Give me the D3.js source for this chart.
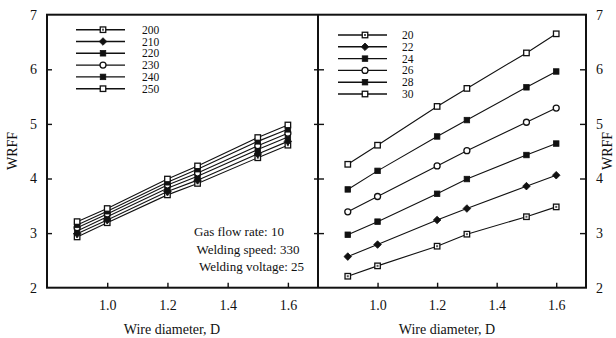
<!DOCTYPE html>
<html>
<head>
<meta charset="utf-8">
<script src="https://cdn.jsdelivr.net/npm/d3@7"></script>
<style>
  html, body { margin: 0; padding: 0; background: #fff; }
  svg { display: block; }
  text { font-family: "Liberation Serif", "DejaVu Serif", serif; fill: #111; }
</style>
</head>
<body>
<svg id="chart" width="616" height="338"></svg>
<script>
// Wire diameter values shared by both panels
const diameters = [0.9, 1.0, 1.2, 1.3, 1.5, 1.6];
const xTicks = [1.0, 1.2, 1.4, 1.6];
const yTicks = [2, 3, 4, 5, 6, 7];

// Left panel: welding current series
const currentLabels = ["200", "210", "220", "230", "240", "250"];
const current200 = [2.93, 3.19, 3.70, 3.91, 4.38, 4.61];
const current210 = [2.99, 3.24, 3.76, 3.97, 4.45, 4.68];
const current220 = [3.04, 3.30, 3.82, 4.04, 4.53, 4.76];
const current230 = [3.10, 3.35, 3.88, 4.10, 4.60, 4.83];
const current240 = [3.15, 3.40, 3.93, 4.17, 4.68, 4.90];
const current250 = [3.21, 3.45, 3.99, 4.23, 4.75, 4.98];

// Right panel: welding voltage series
const voltageLabels = ["20", "22", "24", "26", "28", "30"];
const voltage20 = [2.21, 2.40, 2.76, 2.98, 3.30, 3.48];
const voltage22 = [2.57, 2.79, 3.24, 3.45, 3.86, 4.06];
const voltage24 = [2.97, 3.21, 3.72, 3.99, 4.43, 4.64];
const voltage26 = [3.39, 3.67, 4.23, 4.51, 5.03, 5.29];
const voltage28 = [3.80, 4.14, 4.77, 5.07, 5.67, 5.96];
const voltage30 = [4.26, 4.61, 5.32, 5.65, 6.30, 6.65];

const notes = ["Gas flow rate: 10", "Welding speed: 330", "Welding voltage: 25"];

// marker style per series position
const markerKinds = ["dotSquare", "diamond", "square", "circle", "square", "openSquare"];

const svg = d3.select("#chart");
const y = d3.scaleLinear().domain([2, 7]).range([287.7, 14.7]);
const xL = d3.scaleLinear().domain([0.8, 1.7]).range([47, 318]);
const xR = d3.scaleLinear().domain([0.8, 1.7]).range([318, 586]);

function drawMarker(g, kind, cx, cy) {
  const s = 5.5;
  if (kind === "diamond") {
    g.append("path").attr("d", `M${cx},${cy - 3.8}L${cx + 3.8},${cy}L${cx},${cy + 3.8}L${cx - 3.8},${cy}Z`)
      .attr("fill", "#111").attr("stroke", "#111").attr("stroke-width", 0.8);
  } else if (kind === "circle") {
    g.append("circle").attr("cx", cx).attr("cy", cy).attr("r", 3)
      .attr("fill", "#fff").attr("stroke", "#111").attr("stroke-width", 1.3);
  } else if (kind === "square") {
    g.append("rect").attr("x", cx - s / 2).attr("y", cy - s / 2).attr("width", s).attr("height", s)
      .attr("fill", "#111").attr("stroke", "#111").attr("stroke-width", 0.8);
  } else {
    g.append("rect").attr("x", cx - s / 2).attr("y", cy - s / 2).attr("width", s).attr("height", s)
      .attr("fill", "#fff").attr("stroke", "#111").attr("stroke-width", 1.3);
    if (kind === "dotSquare") {
      g.append("rect").attr("x", cx - 1).attr("y", cy - 1).attr("width", 2).attr("height", 2).attr("fill", "#555");
    }
  }
}

function drawSeries(x, seriesList) {
  const line = d3.line().x((d, i) => x(diameters[i])).y(d => y(d));
  const g = svg.append("g");
  seriesList.forEach(vals => {
    g.append("path").datum(vals).attr("d", line)
      .attr("fill", "none").attr("stroke", "#111").attr("stroke-width", 1.1);
  });
  seriesList.forEach((vals, k) => {
    vals.forEach((v, i) => drawMarker(g, markerKinds[k], x(diameters[i]), y(v)));
  });
}

function drawLegend(labels, x0, x1, xm, xt, y0, dy) {
  const g = svg.append("g");
  labels.forEach((lab, k) => {
    const yy = y0 + k * dy;
    g.append("line").attr("x1", x0).attr("x2", x1).attr("y1", yy).attr("y2", yy)
      .attr("stroke", "#111").attr("stroke-width", 1.4);
    drawMarker(g, markerKinds[k], xm, yy);
    g.append("text").attr("x", xt).attr("y", yy + 4).attr("font-size", 11.5).text(lab);
  });
}

function styleAxis(g) {
  g.select(".domain").remove();
  g.selectAll(".tick line").attr("stroke", "#111").attr("stroke-width", 1.4);
  g.selectAll(".tick text").attr("font-size", 14).attr("fill", "#111")
    .attr("font-family", '"Liberation Serif", serif');
}

// bottom axes with inward ticks
svg.append("g").attr("transform", "translate(0,287.7)")
  .call(d3.axisBottom(xL).tickValues(xTicks).tickFormat(d3.format(".1f")).tickSizeInner(-5).tickSizeOuter(0).tickPadding(12))
  .call(styleAxis);
svg.append("g").attr("transform", "translate(0,287.7)")
  .call(d3.axisBottom(xR).tickValues(xTicks).tickFormat(d3.format(".1f")).tickSizeInner(-5).tickSizeOuter(0).tickPadding(12))
  .call(styleAxis);

// left y axis with labels, ticks pointing into the plot
svg.append("g").attr("transform", "translate(47,0)")
  .call(d3.axisLeft(y).tickValues(yTicks).tickFormat(d3.format("d")).tickSizeInner(-5).tickSizeOuter(0).tickPadding(10))
  .call(styleAxis)
  .call(g => g.selectAll(".tick").filter(d => d === 2 || d === 7).select("line").remove());

// shared divider ticks
svg.append("g").attr("transform", "translate(318,0)")
  .call(d3.axisLeft(y).tickValues([3, 4, 5, 6]).tickFormat("").tickSizeInner(-6).tickSizeOuter(0))
  .call(styleAxis);
svg.append("g").attr("transform", "translate(318,0)")
  .call(d3.axisLeft(y).tickValues([3, 4, 5, 6]).tickFormat("").tickSizeInner(4).tickSizeOuter(0))
  .call(styleAxis);

// right y axis with labels
svg.append("g").attr("transform", "translate(586,0)")
  .call(d3.axisRight(y).tickValues(yTicks).tickFormat(d3.format("d")).tickSizeInner(-6).tickSizeOuter(0).tickPadding(10))
  .call(styleAxis)
  .call(g => g.selectAll(".tick").filter(d => d === 2 || d === 7).select("line").remove());

// frame
const frame = svg.append("g").attr("fill", "none").attr("stroke", "#111").attr("stroke-width", 2);
frame.append("rect").attr("x", xL(0.8)).attr("y", y(7)).attr("width", xR(1.7) - xL(0.8)).attr("height", y(2) - y(7));
frame.append("line").attr("x1", 318).attr("x2", 318).attr("y1", y(7)).attr("y2", y(2));

drawSeries(xL, [current200, current210, current220, current230, current240, current250]);
drawSeries(xR, [voltage20, voltage22, voltage24, voltage26, voltage28, voltage30]);

drawLegend(currentLabels, 76, 125, 103, 142, 29.7, 11.8);
drawLegend(voltageLabels, 338, 387, 365, 402, 35, 11.8);

// process conditions note
notes.forEach((t, i) => {
  svg.append("text").attr("x", 194 + i * 2.5).attr("y", 236 + i * 17.5).attr("font-size", 13).text(t);
});

// axis titles
svg.append("text").attr("x", 172).attr("y", 334).attr("text-anchor", "middle").attr("font-size", 14).text("Wire diameter, D");
svg.append("text").attr("x", 447).attr("y", 334).attr("text-anchor", "middle").attr("font-size", 14).text("Wire diameter, D");
svg.append("text").attr("transform", "translate(17,151) rotate(-90)").attr("text-anchor", "middle").attr("font-size", 14).text("WRFF");
svg.append("text").attr("transform", "translate(612,151) rotate(-90)").attr("text-anchor", "middle").attr("font-size", 14).text("WRFF");
</script>
</body>
</html>
